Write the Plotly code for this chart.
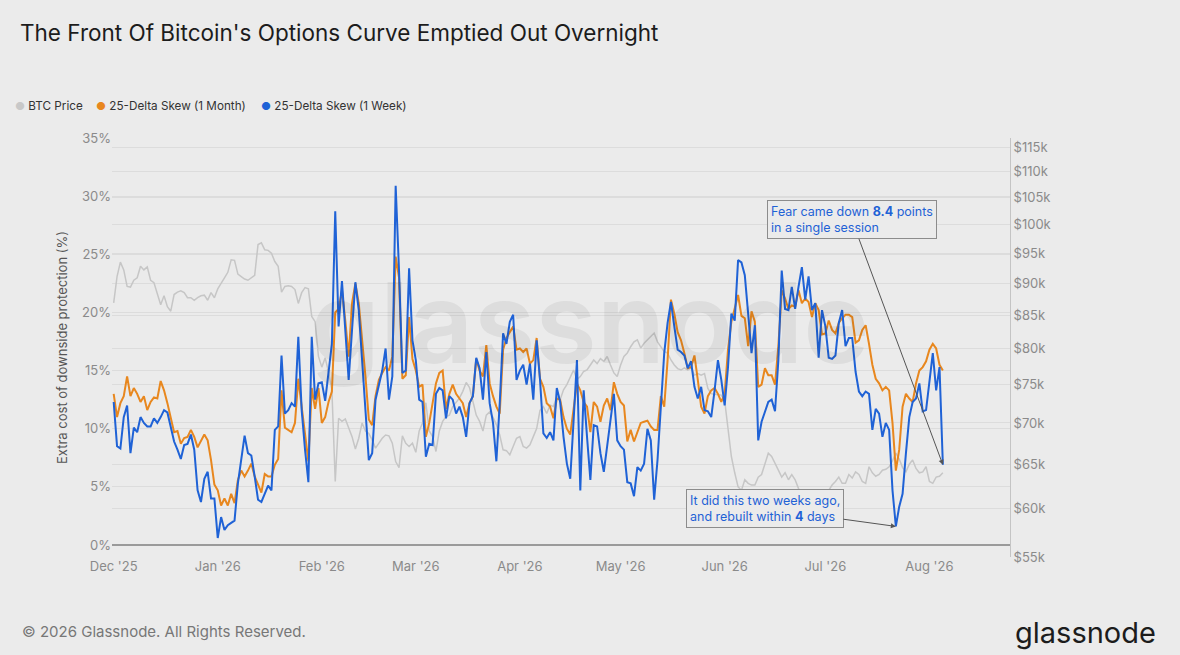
import numpy as np
import pandas as pd
import plotly.graph_objects as go

# daily series, first value is 1 Dec 2025
start_date = '2025-12-01'

skew_1w = [
    12.3, 8.5, 8.3, 11.0, 12.0, 7.9, 10.1, 9.7, 11.0, 10.5,
    10.2, 10.2, 10.9, 10.5, 11.0, 11.6, 11.4, 10.2, 8.9, 8.2,
    7.4, 8.6, 8.7, 9.5, 8.2, 4.7, 3.7, 5.7, 6.3, 4.0,
    4.0, 0.6, 2.4, 1.3, 1.7, 1.9, 2.1, 5.3, 7.4, 9.4,
    7.9, 7.7, 5.9, 3.9, 3.7, 4.4, 5.1, 4.7, 9.9, 10.2,
    16.3, 11.3, 11.6, 12.2, 11.9, 17.9, 11.6, 8.2, 5.4, 17.9,
    12.5, 13.9, 14.0, 12.4, 15.0, 17.3, 28.7, 18.8, 22.7, 18.4,
    14.2, 18.5, 22.6, 20.2, 16.2, 11.6, 7.3, 7.9, 12.5, 13.8,
    15.0, 16.9, 12.5, 14.5, 30.9, 23.6, 14.8, 15.0, 23.8, 17.6,
    15.9, 12.5, 12.3, 7.6, 8.7, 8.6, 13.0, 13.5, 13.3, 10.9,
    12.8, 12.5, 11.3, 11.9, 11.0, 9.3, 12.2, 12.8, 16.1, 15.2,
    12.5, 16.6, 12.2, 10.5, 7.2, 12.2, 18.2, 17.3, 19.2, 19.8,
    14.2, 15.0, 15.5, 13.8, 15.6, 12.5, 17.6, 14.2, 9.6, 9.2,
    9.7, 9.0, 13.5, 12.3, 9.3, 7.0, 5.7, 10.7, 15.9, 4.7,
    13.3, 9.3, 5.6, 10.3, 10.2, 7.9, 6.3, 8.5, 11.0, 13.0,
    9.0, 8.5, 8.2, 5.4, 5.3, 4.2, 6.7, 6.4, 7.0, 10.0,
    9.0, 3.9, 7.3, 12.2, 16.5, 19.1, 20.9, 18.8, 16.8, 16.6,
    16.3, 15.2, 15.8, 13.6, 12.6, 13.6, 11.6, 11.5, 11.0, 13.3,
    15.9, 14.2, 12.0, 15.3, 19.9, 19.3, 24.5, 24.3, 23.2, 19.9,
    16.5, 18.9, 9.0, 10.6, 11.5, 12.3, 12.5, 11.5, 15.9, 23.6,
    20.3, 20.2, 22.2, 20.3, 22.2, 23.9, 21.1, 23.1, 20.2, 20.8,
    16.1, 20.2, 18.8, 16.1, 16.0, 16.3, 19.1, 20.2, 17.1, 17.8,
    17.8, 14.9, 13.2, 12.8, 13.2, 13.0, 9.9, 11.7, 11.3, 9.3,
    10.5, 9.9, 4.7, 1.6, 3.3, 4.4, 7.9, 11.0, 12.3, 12.6,
    13.9, 11.5, 11.6, 13.9, 16.5, 13.3, 15.3, 6.9,
]

skew_1m = [
    13.0, 11.0, 12.2, 12.8, 14.5, 12.8, 13.5, 13.0, 12.3, 12.8,
    11.6, 12.3, 12.7, 12.6, 14.1, 13.3, 12.2, 10.9, 9.7, 9.8,
    8.7, 9.2, 9.3, 9.9, 9.3, 8.4, 8.9, 9.5, 9.0, 7.3,
    5.2, 4.7, 3.4, 4.0, 3.4, 4.4, 3.6, 5.6, 6.4, 5.9,
    6.4, 7.0, 5.9, 5.2, 4.5, 6.1, 5.9, 5.9, 6.9, 7.4,
    13.3, 10.1, 9.9, 9.7, 10.5, 14.3, 11.9, 9.3, 7.2, 13.5,
    11.7, 13.5, 10.5, 11.0, 12.3, 13.2, 20.0, 20.3, 21.9, 19.3,
    16.2, 20.8, 22.5, 20.8, 17.9, 14.5, 10.8, 10.3, 12.8, 14.2,
    14.8, 15.3, 15.0, 16.2, 24.8, 23.0, 14.3, 14.6, 19.6, 16.0,
    15.0, 13.6, 13.8, 9.3, 10.5, 12.2, 13.9, 14.8, 15.0, 11.7,
    13.0, 13.8, 13.0, 12.6, 12.2, 11.0, 12.2, 12.8, 16.0, 15.0,
    14.5, 17.2, 13.9, 12.8, 11.9, 11.3, 16.8, 17.8, 18.3, 18.8,
    16.8, 16.9, 16.6, 16.9, 15.6, 15.9, 17.8, 14.3, 13.6, 12.2,
    11.9, 10.9, 12.6, 12.5, 11.0, 10.0, 9.5, 11.9, 13.9, 13.3,
    12.3, 11.9, 9.7, 12.3, 11.9, 10.6, 12.0, 12.6, 11.6, 14.0,
    13.0, 12.3, 12.0, 8.9, 9.9, 8.9, 9.7, 10.5, 10.6, 10.7,
    10.2, 9.9, 9.9, 12.8, 11.9, 15.9, 21.1, 19.9, 18.3, 17.6,
    16.5, 15.2, 15.3, 16.3, 14.2, 11.9, 11.3, 12.8, 13.3, 13.5,
    13.0, 12.3, 13.0, 16.8, 19.2, 20.5, 21.5, 19.7, 19.5, 17.1,
    20.1, 19.2, 13.6, 13.8, 15.2, 14.6, 14.6, 13.8, 17.1, 21.9,
    21.2, 20.3, 20.6, 20.5, 21.9, 20.8, 21.2, 20.9, 19.6, 20.8,
    20.2, 18.1, 18.2, 19.3, 18.5, 18.2, 19.1, 19.5, 19.8, 19.8,
    19.6, 17.4, 17.6, 18.5, 18.9, 17.3, 15.5, 14.3, 13.9, 13.3,
    13.6, 13.3, 10.5, 6.4, 8.2, 11.9, 13.0, 12.6, 12.3, 13.9,
    15.0, 15.3, 15.8, 16.8, 17.3, 16.9, 15.5, 15.0,
]

# BTC price in $k
btc_price = [
    86.9, 91.1, 93.5, 92.2, 89.5, 89.4, 90.5, 90.9, 92.8, 92.2,
    92.7, 90.5, 90.1, 88.2, 86.6, 88.0, 86.3, 85.6, 88.2, 88.6,
    88.8, 88.5, 87.7, 87.7, 87.3, 87.7, 88.0, 88.1, 87.3, 88.5,
    87.7, 89.1, 90.1, 90.9, 91.8, 93.9, 93.8, 91.5, 91.1, 90.7,
    90.5, 90.9, 91.3, 96.5, 96.8, 95.6, 95.5, 95.0, 93.6, 92.8,
    88.6, 89.5, 89.6, 89.5, 89.0, 86.8, 88.5, 89.3, 89.1, 84.8,
    84.0, 78.9, 77.4, 78.7, 76.7, 74.3, 63.0, 70.6, 70.2, 70.5,
    69.4, 68.3, 66.8, 68.1, 70.0, 69.0, 68.7, 67.9, 66.9, 67.5,
    68.1, 68.5, 68.4, 67.5, 65.3, 64.6, 68.4, 67.5, 67.1, 67.5,
    66.4, 69.0, 70.0, 72.6, 69.0, 68.3, 66.5, 69.0, 70.2, 70.8,
    71.0, 72.1, 72.7, 73.2, 74.1, 75.3, 74.6, 72.7, 71.0, 70.2,
    69.0, 71.0, 71.4, 70.7, 69.8, 68.5, 66.7, 66.6, 66.1, 67.1,
    68.1, 68.3, 67.1, 66.9, 67.3, 68.3, 69.3, 71.6, 72.1, 71.2,
    72.3, 72.1, 73.4, 73.0, 74.3, 75.0, 75.9, 77.0, 75.7, 76.1,
    76.8, 77.0, 77.7, 78.4, 77.9, 78.6, 78.2, 78.9, 77.7, 76.6,
    76.1, 77.7, 78.9, 79.4, 80.3, 81.0, 81.3, 80.1, 80.8, 81.3,
    81.8, 82.3, 81.0, 80.3, 79.6, 79.4, 78.4, 77.7, 77.2, 77.0,
    77.3, 77.0, 77.3, 76.3, 76.5, 76.3, 76.5, 74.5, 73.8, 73.7,
    73.7, 73.6, 72.9, 69.6, 65.9, 64.0, 62.4, 62.0, 63.2, 62.8,
    62.6, 62.6, 63.5, 63.8, 65.1, 66.3, 65.9, 65.0, 64.3, 63.5,
    64.0, 63.2, 63.8, 63.2, 62.2, 61.8, 61.5, 61.3, 61.6, 62.0,
    61.8, 61.9, 62.0, 62.0, 62.6, 63.0, 63.5, 62.8, 62.8, 63.8,
    63.4, 64.1, 63.8, 63.0, 62.8, 64.7, 64.0, 63.6, 63.8, 64.3,
    64.4, 64.7, 65.4, 66.3, 65.6, 64.6, 64.1, 65.0, 65.5, 64.5,
    64.0, 64.1, 64.7, 63.0, 62.8, 63.5, 63.6, 64.0,
]

price_ticks = [55, 60, 65, 70, 75, 80, 85, 90, 95, 100, 105, 110, 115]

dates = pd.date_range(start_date, periods=len(skew_1w), freq='D')
price_usd = np.array(btc_price) * 1000

W, H = 1180, 655
L, R, T, B = 112, 170, 138, 98
pw, ph = W - L - R, H - T - B

bg = '#ebebeb'
grid = '#dcdcdc'
blue = '#1f62d6'
orange = '#e8871e'
grey_line = '#c6c6c6'
tick_col = '#8a8a8a'


def px_x(p):
    return (p - L) / pw


def px_y(p):
    return (H - B - p) / ph


fig = go.Figure()

# price goes on the base axis so it draws underneath the skew lines
fig.add_trace(go.Scatter(x=dates, y=price_usd, mode='lines', yaxis='y',
                         line={'color': grey_line, 'width': 1.5},
                         name='BTC Price'))
fig.add_trace(go.Scatter(x=dates, y=skew_1m, mode='lines', yaxis='y2',
                         line={'color': orange, 'width': 2},
                         name='25-Delta Skew (1 Month)'))
fig.add_trace(go.Scatter(x=dates, y=skew_1w, mode='lines', yaxis='y2',
                         line={'color': blue, 'width': 2},
                         name='25-Delta Skew (1 Week)'))

last = len(skew_1w) - 1
low_day = int(np.argmin(skew_1w[200:])) + 200

fig.update_layout(
    width=W, height=H,
    paper_bgcolor=bg, plot_bgcolor=bg,
    showlegend=False,
    font={'family': 'Inter, Roboto, sans-serif', 'color': '#333333'},
    margin={'l': L, 'r': R, 't': T, 'b': B},
    title={'text': "The Front Of Bitcoin's Options Curve Emptied Out Overnight",
           'x': 20 / W, 'xanchor': 'left', 'y': 1 - 33 / H, 'yanchor': 'middle',
           'font': {'size': 22.5, 'color': '#1c1c1c'}},
    xaxis={'type': 'date', 'range': ['2025-11-30 12:00', '2026-08-25'],
           'tickformat': "%b '%y", 'dtick': 'M1', 'tick0': '2025-12-01',
           'showgrid': False, 'showline': False, 'zeroline': False,
           'tickfont': {'size': 13, 'color': tick_col}, 'ticks': ''},
    yaxis={'type': 'log', 'side': 'right',
           'range': [np.log10(55000), np.log10(116900)],
           'tickvals': [v * 1000 for v in price_ticks],
           'ticktext': ['$%dk' % v for v in price_ticks],
           'tickfont': {'size': 13, 'color': tick_col},
           'gridcolor': grid, 'gridwidth': 1,
           'showline': True, 'linecolor': '#c4c4c4', 'linewidth': 1,
           'zeroline': False, 'ticks': ''},
    yaxis2={'overlaying': 'y', 'side': 'left', 'range': [-1.03, 35],
            'dtick': 5, 'tick0': 0, 'ticksuffix': '%',
            'tickfont': {'size': 13, 'color': tick_col},
            'gridcolor': grid, 'gridwidth': 1,
            'zeroline': True, 'zerolinecolor': '#9a9a9a', 'zerolinewidth': 1.5,
            'title': {'text': 'Extra cost of downside protection (%)',
                      'font': {'size': 13, 'color': '#555555'}, 'standoff': 11},
            'ticks': ''},
)

# legend row: coloured dot + label
legend_items = [('BTC Price', '#c8c8c8', 13),
                ('25-Delta Skew (1 Month)', orange, 94),
                ('25-Delta Skew (1 Week)', blue, 259)]
for label, col, left in legend_items:
    fig.add_annotation(text='<span style="color:%s;font-size:11px">●</span> %s' % (col, label),
                       xref='paper', yref='paper', x=px_x(left), y=px_y(106),
                       xanchor='left', yanchor='middle', showarrow=False,
                       font={'size': 11.7, 'color': '#333333'})

# watermark
fig.add_annotation(text='glassnode', xref='paper', yref='paper', x=px_x(590), y=px_y(322),
                   showarrow=False,
                   font={'size': 112, 'color': 'rgba(0,0,0,0.06)', 'weight': 600})

fig.add_annotation(x=dates[last], y=skew_1w[last], xref='x', yref='y2',
                   text='Fear came down <b>8.4</b> points<br>in a single session',
                   align='left', showarrow=True, ax=-91, ay=-245,
                   arrowhead=2, arrowsize=1, arrowwidth=1, arrowcolor='#555555',
                   font={'size': 12.5, 'color': blue},
                   bgcolor=bg, bordercolor='#8c8c8c', borderwidth=1, borderpad=3)

fig.add_annotation(x=dates[low_day], y=skew_1w[low_day], xref='x', yref='y2',
                   text='It did this two weeks ago,<br>and rebuilt within <b>4</b> days',
                   align='left', showarrow=True, ax=-131, ay=-18,
                   arrowhead=2, arrowsize=1, arrowwidth=1, arrowcolor='#555555',
                   font={'size': 12.5, 'color': blue},
                   bgcolor=bg, bordercolor='#8c8c8c', borderwidth=1, borderpad=3)

# footer
fig.add_annotation(text='© 2026 Glassnode. All Rights Reserved.', xref='paper', yref='paper',
                   x=px_x(20), y=px_y(631), xanchor='left', yanchor='middle',
                   showarrow=False, font={'size': 15, 'color': '#777777'})
fig.add_annotation(text='glassnode', xref='paper', yref='paper',
                   x=px_x(1158), y=px_y(632), xanchor='right', yanchor='middle',
                   showarrow=False, font={'size': 29, 'color': '#1c1c1c'})

fig.write_html('out.html', config={'displayModeBar': False},
               post_script="document.body.style.margin='0';")
